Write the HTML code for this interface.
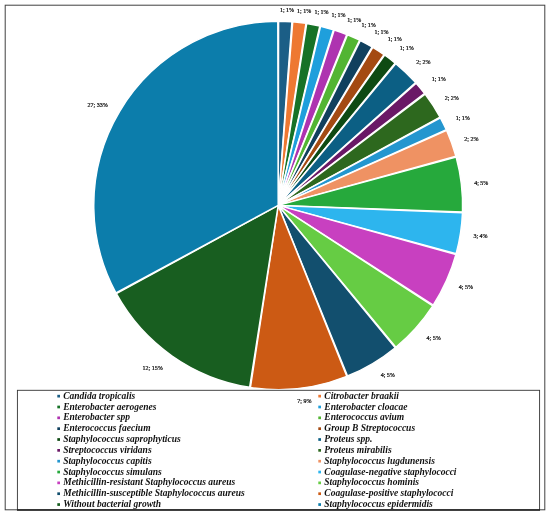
<!DOCTYPE html>
<html lang="en"><head><meta charset="utf-8"><title>Pie chart</title>
<style>html,body{margin:0;padding:0;background:#fff}svg{display:block}.lb{font-family:"Liberation Serif","DejaVu Serif",serif;font-size:6px;fill:#000;stroke:#000;stroke-width:0.2px;text-anchor:middle}.lg{font-family:"Liberation Serif","DejaVu Serif",serif;font-size:9.5px;font-style:italic;font-weight:bold;fill:#111}</style></head><body>
<svg width="550" height="517" viewBox="0 0 550 517">
<rect x="0" y="0" width="550" height="517" fill="#fff"/>
<rect x="5.2" y="5.2" width="539.6" height="504.6" fill="none" stroke="#404040" stroke-width="1"/>
<path d="M278.20,205.40 L278.59,21.25 A184.45,184.15 0 0 1 291.93,21.76 Z" fill="#1B5E86" stroke="#fff" stroke-width="1.5" stroke-linejoin="round"/>
<path d="M278.20,205.40 L292.70,21.82 A184.45,184.15 0 0 1 305.97,23.35 Z" fill="#EE7832" stroke="#fff" stroke-width="1.5" stroke-linejoin="round"/>
<path d="M278.20,205.40 L306.74,23.47 A184.45,184.15 0 0 1 319.85,26.01 Z" fill="#177227" stroke="#fff" stroke-width="1.5" stroke-linejoin="round"/>
<path d="M278.20,205.40 L320.60,26.18 A184.45,184.15 0 0 1 333.48,29.72 Z" fill="#1F9FDC" stroke="#fff" stroke-width="1.5" stroke-linejoin="round"/>
<path d="M278.20,205.40 L334.22,29.95 A184.45,184.15 0 0 1 346.79,34.46 Z" fill="#AE33B0" stroke="#fff" stroke-width="1.5" stroke-linejoin="round"/>
<path d="M278.20,205.40 L347.51,34.74 A184.45,184.15 0 0 1 359.70,40.20 Z" fill="#52B533" stroke="#fff" stroke-width="1.5" stroke-linejoin="round"/>
<path d="M278.20,205.40 L360.39,40.54 A184.45,184.15 0 0 1 372.13,46.91 Z" fill="#10405E" stroke="#fff" stroke-width="1.5" stroke-linejoin="round"/>
<path d="M278.20,205.40 L372.79,47.31 A184.45,184.15 0 0 1 384.00,54.56 Z" fill="#A44A12" stroke="#fff" stroke-width="1.5" stroke-linejoin="round"/>
<path d="M278.20,205.40 L384.63,55.00 A184.45,184.15 0 0 1 395.26,63.09 Z" fill="#0E4A13" stroke="#fff" stroke-width="1.5" stroke-linejoin="round"/>
<path d="M278.20,205.40 L395.85,63.58 A184.45,184.15 0 0 1 415.64,82.59 Z" fill="#0C5F84" stroke="#fff" stroke-width="1.5" stroke-linejoin="round"/>
<path d="M278.20,205.40 L416.16,83.17 A184.45,184.15 0 0 1 424.66,93.46 Z" fill="#6A1866" stroke="#fff" stroke-width="1.5" stroke-linejoin="round"/>
<path d="M278.20,205.40 L425.13,94.07 A184.45,184.15 0 0 1 440.06,117.09 Z" fill="#2D681E" stroke="#fff" stroke-width="1.5" stroke-linejoin="round"/>
<path d="M278.20,205.40 L440.43,117.77 A184.45,184.15 0 0 1 446.35,129.72 Z" fill="#2496CF" stroke="#fff" stroke-width="1.5" stroke-linejoin="round"/>
<path d="M278.20,205.40 L446.67,130.42 A184.45,184.15 0 0 1 455.95,156.23 Z" fill="#EF9263" stroke="#fff" stroke-width="1.5" stroke-linejoin="round"/>
<path d="M278.20,205.40 L456.16,156.98 A184.45,184.15 0 0 1 462.53,212.07 Z" fill="#26A93C" stroke="#fff" stroke-width="1.5" stroke-linejoin="round"/>
<path d="M278.20,205.40 L462.50,212.84 A184.45,184.15 0 0 1 456.16,253.82 Z" fill="#2DB5EE" stroke="#fff" stroke-width="1.5" stroke-linejoin="round"/>
<path d="M278.20,205.40 L455.95,254.57 A184.45,184.15 0 0 1 433.23,305.17 Z" fill="#C840C0" stroke="#fff" stroke-width="1.5" stroke-linejoin="round"/>
<path d="M278.20,205.40 L432.81,305.82 A184.45,184.15 0 0 1 395.85,347.22 Z" fill="#66CC44" stroke="#fff" stroke-width="1.5" stroke-linejoin="round"/>
<path d="M278.20,205.40 L395.26,347.71 A184.45,184.15 0 0 1 347.51,376.06 Z" fill="#124F6E" stroke="#fff" stroke-width="1.5" stroke-linejoin="round"/>
<path d="M278.20,205.40 L346.79,376.34 A184.45,184.15 0 0 1 250.43,387.45 Z" fill="#CC5A14" stroke="#fff" stroke-width="1.5" stroke-linejoin="round"/>
<path d="M278.20,205.40 L249.66,387.33 A184.45,184.15 0 0 1 116.34,293.71 Z" fill="#185E20" stroke="#fff" stroke-width="1.5" stroke-linejoin="round"/>
<path d="M278.20,205.40 L115.97,293.03 A184.45,184.15 0 0 1 277.81,21.25 Z" fill="#0C7DAB" stroke="#fff" stroke-width="1.5" stroke-linejoin="round"/>
<rect x="17.4" y="390.3" width="522.2" height="119.5" fill="#fff" stroke="#333" stroke-width="0.9"/>
<line x1="17" y1="510" x2="540" y2="510" stroke="#222" stroke-width="1.4"/>
<text class="lb" x="287.0" y="12.3">1; 1%</text>
<text class="lb" x="304.2" y="12.6">1; 1%</text>
<text class="lb" x="321.5" y="13.9">1; 1%</text>
<text class="lb" x="338.5" y="17.2">1; 1%</text>
<text class="lb" x="354.3" y="21.6">1; 1%</text>
<text class="lb" x="368.6" y="27.2">1; 1%</text>
<text class="lb" x="381.5" y="34.0">1; 1%</text>
<text class="lb" x="394.8" y="41.3">1; 1%</text>
<text class="lb" x="406.8" y="49.9">1; 1%</text>
<text class="lb" x="423.4" y="64.2">2; 2%</text>
<text class="lb" x="438.8" y="81.2">1; 1%</text>
<text class="lb" x="451.8" y="100.3">2; 2%</text>
<text class="lb" x="462.8" y="120.1">1; 1%</text>
<text class="lb" x="471.4" y="140.6">2; 2%</text>
<text class="lb" x="481.3" y="185.2">4; 5%</text>
<text class="lb" x="480.5" y="238.1">3; 4%</text>
<text class="lb" x="465.9" y="288.7">4; 5%</text>
<text class="lb" x="433.6" y="340.0">4; 5%</text>
<text class="lb" x="387.8" y="377.4">4; 5%</text>
<text class="lb" x="304.4" y="403.4">7; 9%</text>
<text class="lb" x="152.7" y="369.8">12; 15%</text>
<text class="lb" x="97.6" y="106.5">27; 33%</text>
<rect x="57.300000000000004" y="394.80" width="2.7" height="2.7" fill="#1B5E86"/>
<text class="lg" x="63.2" y="398.70">Candida tropicalis</text>
<rect x="318.3" y="394.80" width="2.7" height="2.7" fill="#EE7832"/>
<text class="lg" x="324.3" y="398.70">Citrobacter braakii</text>
<rect x="57.300000000000004" y="405.64" width="2.7" height="2.7" fill="#177227"/>
<text class="lg" x="63.2" y="409.54">Enterobacter aerogenes</text>
<rect x="318.3" y="405.64" width="2.7" height="2.7" fill="#1F9FDC"/>
<text class="lg" x="324.3" y="409.54">Enterobacter cloacae</text>
<rect x="57.300000000000004" y="416.48" width="2.7" height="2.7" fill="#AE33B0"/>
<text class="lg" x="63.2" y="420.38">Enterobacter spp</text>
<rect x="318.3" y="416.48" width="2.7" height="2.7" fill="#52B533"/>
<text class="lg" x="324.3" y="420.38">Enterococcus avium</text>
<rect x="57.300000000000004" y="427.32" width="2.7" height="2.7" fill="#10405E"/>
<text class="lg" x="63.2" y="431.22">Enterococcus faecium</text>
<rect x="318.3" y="427.32" width="2.7" height="2.7" fill="#A44A12"/>
<text class="lg" x="324.3" y="431.22">Group B Streptococcus</text>
<rect x="57.300000000000004" y="438.16" width="2.7" height="2.7" fill="#0E4A13"/>
<text class="lg" x="63.2" y="442.06">Staphylococcus saprophyticus</text>
<rect x="318.3" y="438.16" width="2.7" height="2.7" fill="#0C5F84"/>
<text class="lg" x="324.3" y="442.06">Proteus spp.</text>
<rect x="57.300000000000004" y="449.00" width="2.7" height="2.7" fill="#6A1866"/>
<text class="lg" x="63.2" y="452.90">Streptococcus viridans</text>
<rect x="318.3" y="449.00" width="2.7" height="2.7" fill="#2D681E"/>
<text class="lg" x="324.3" y="452.90">Proteus mirabilis</text>
<rect x="57.300000000000004" y="459.84" width="2.7" height="2.7" fill="#2496CF"/>
<text class="lg" x="63.2" y="463.74">Staphylococcus capitis</text>
<rect x="318.3" y="459.84" width="2.7" height="2.7" fill="#EF9263"/>
<text class="lg" x="324.3" y="463.74">Staphylococcus lugdunensis</text>
<rect x="57.300000000000004" y="470.68" width="2.7" height="2.7" fill="#26A93C"/>
<text class="lg" x="63.2" y="474.58">Staphylococcus simulans</text>
<rect x="318.3" y="470.68" width="2.7" height="2.7" fill="#2DB5EE"/>
<text class="lg" x="324.3" y="474.58">Coagulase-negative staphylococci</text>
<rect x="57.300000000000004" y="481.52" width="2.7" height="2.7" fill="#C840C0"/>
<text class="lg" x="63.2" y="485.42">Methicillin-resistant Staphylococcus aureus</text>
<rect x="318.3" y="481.52" width="2.7" height="2.7" fill="#66CC44"/>
<text class="lg" x="324.3" y="485.42">Staphylococcus hominis</text>
<rect x="57.300000000000004" y="492.36" width="2.7" height="2.7" fill="#124F6E"/>
<text class="lg" x="63.2" y="496.26">Methicillin-susceptible Staphylococcus aureus</text>
<rect x="318.3" y="492.36" width="2.7" height="2.7" fill="#CC5A14"/>
<text class="lg" x="324.3" y="496.26">Coagulase-positive staphylococci</text>
<rect x="57.300000000000004" y="503.20" width="2.7" height="2.7" fill="#185E20"/>
<text class="lg" x="63.2" y="507.10">Without bacterial growth</text>
<rect x="318.3" y="503.20" width="2.7" height="2.7" fill="#0C7DAB"/>
<text class="lg" x="324.3" y="507.10">Staphylococcus epidermidis</text>
</svg></body></html>
